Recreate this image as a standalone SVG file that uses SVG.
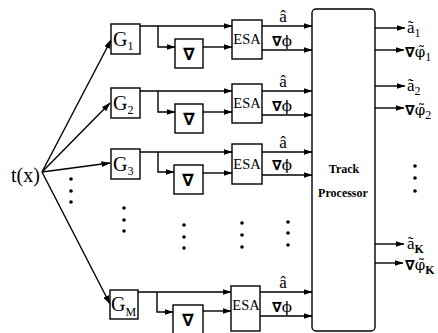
<svg xmlns="http://www.w3.org/2000/svg" width="438" height="333" viewBox="0 0 438 333">
<style>
.b{fill:#fff;stroke:#000;stroke-width:1.4}
.l{fill:none;stroke:#000;stroke-width:1.4}
.t{font-family:"Liberation Serif","DejaVu Serif",serif;fill:#000}
.g{font-size:20px}
.s{font-size:12px}
.e{font-size:14.5px}
.n{font-family:"DejaVu Sans",sans-serif;font-weight:bold;font-size:17px}
.m{font-family:"DejaVu Sans",sans-serif;font-weight:bold;font-size:14px}
.p{font-family:"DejaVu Serif",serif;font-size:15px}
.o{font-size:17px}
.d{fill:#000}
</style>
<defs>
<marker id="a" markerWidth="9" markerHeight="6" refX="8.5" refY="3" orient="auto" markerUnits="userSpaceOnUse">
<path d="M0,0 L9,3 L0,6 z" fill="#000"/>
</marker>
</defs>
<rect width="438" height="333" fill="#fff"/>

<g id="connectors">
<path class="l" marker-end="url(#a)" d="M42,172 L111,40"/>
<path class="l" marker-end="url(#a)" d="M42,172 L110,103"/>
<path class="l" marker-end="url(#a)" d="M42,172 L110,163"/>
<path class="l" marker-end="url(#a)" d="M42,172 L110,304"/>
<path class="l" marker-end="url(#a)" d="M140,26 H232"/>
<path class="l" marker-end="url(#a)" d="M158,26 V47 H175"/>
<path class="l" marker-end="url(#a)" d="M203,47 H232"/>
<path class="l" marker-end="url(#a)" d="M262,26 H312"/>
<path class="l" marker-end="url(#a)" d="M262,50 H312"/>
<path class="l" marker-end="url(#a)" d="M140,91 H232"/>
<path class="l" marker-end="url(#a)" d="M158,91 V112 H175"/>
<path class="l" marker-end="url(#a)" d="M203,112 H232"/>
<path class="l" marker-end="url(#a)" d="M262,91 H312"/>
<path class="l" marker-end="url(#a)" d="M262,115 H312"/>
<path class="l" marker-end="url(#a)" d="M140,152 H232"/>
<path class="l" marker-end="url(#a)" d="M158,152 V172 H174"/>
<path class="l" marker-end="url(#a)" d="M203,173 H232"/>
<path class="l" marker-end="url(#a)" d="M262,152 H312"/>
<path class="l" marker-end="url(#a)" d="M262,175 H312"/>
<path class="l" marker-end="url(#a)" d="M138,292 H231"/>
<path class="l" marker-end="url(#a)" d="M157,292 V312 H173"/>
<path class="l" marker-end="url(#a)" d="M203,311 H231"/>
<path class="l" marker-end="url(#a)" d="M260,292 H312"/>
<path class="l" marker-end="url(#a)" d="M260,316 H312"/>
<path class="l" marker-end="url(#a)" d="M375,28 H405"/>
<path class="l" marker-end="url(#a)" d="M375,50 H404"/>
<path class="l" marker-end="url(#a)" d="M375,86 H405"/>
<path class="l" marker-end="url(#a)" d="M375,108 H404"/>
<path class="l" marker-end="url(#a)" d="M375,244 H404"/>
<path class="l" marker-end="url(#a)" d="M375,263 H403"/>
</g>

<g id="tx"><text class="t g" x="11" y="182">t(x)</text></g>

<g id="G1"><rect class="b" x="111" y="24" width="29" height="30"/><text class="t g" x="113" y="46">G<tspan class="s" dy="4">1</tspan></text></g>
<g id="G2"><rect class="b" x="111" y="88" width="29" height="30"/><text class="t g" x="113" y="110">G<tspan class="s" dy="4">2</tspan></text></g>
<g id="G3"><rect class="b" x="111" y="149" width="29" height="30"/><text class="t g" x="113" y="171">G<tspan class="s" dy="4">3</tspan></text></g>
<g id="GM"><rect class="b" x="110" y="290" width="28" height="29"/><text class="t g" x="111" y="311">G<tspan class="s" dy="5">M</tspan></text></g>

<g id="D1"><rect class="b" x="175" y="39" width="28" height="29"/><text class="n" x="189" y="60" text-anchor="middle">∇</text></g>
<g id="D2"><rect class="b" x="175" y="104" width="28" height="29"/><text class="n" x="189" y="125" text-anchor="middle">∇</text></g>
<g id="D3"><rect class="b" x="174" y="165" width="29" height="29"/><text class="n" x="188" y="186" text-anchor="middle">∇</text></g>
<g id="DM"><rect class="b" x="173" y="305" width="30" height="30"/><text class="n" x="188" y="326" text-anchor="middle">∇</text></g>

<g id="ESA1"><rect class="b" x="232" y="20" width="30" height="39"/><text class="t e" x="247" y="44" text-anchor="middle">ESA</text></g>
<g id="ESA2"><rect class="b" x="232" y="84" width="30" height="39"/><text class="t e" x="247" y="108" text-anchor="middle">ESA</text></g>
<g id="ESA3"><rect class="b" x="232" y="144" width="30" height="40"/><text class="t e" x="247" y="169" text-anchor="middle">ESA</text></g>
<g id="ESAM"><rect class="b" x="231" y="286" width="29" height="45"/><text class="t e" x="246" y="310" text-anchor="middle">ESA</text></g>

<g id="labels">
<text class="t o" x="283" y="22" text-anchor="middle">â</text>
<text class="t o" x="282" y="46" text-anchor="middle"><tspan class="m">∇</tspan><tspan class="p">ϕ</tspan></text>
<text class="t o" x="283" y="87" text-anchor="middle">â</text>
<text class="t o" x="282" y="111" text-anchor="middle"><tspan class="m">∇</tspan><tspan class="p">ϕ</tspan></text>
<text class="t o" x="283" y="148" text-anchor="middle">â</text>
<text class="t o" x="282" y="170" text-anchor="middle"><tspan class="m">∇</tspan><tspan class="p">ϕ</tspan></text>
<text class="t o" x="283" y="288" text-anchor="middle">â</text>
<text class="t o" x="282" y="312" text-anchor="middle"><tspan class="m">∇</tspan><tspan class="p">ϕ</tspan></text>
</g>

<g id="TP"><rect class="b" x="312" y="9" width="63" height="322" rx="4"/>
<text class="t" x="344" y="173" text-anchor="middle" font-size="12" font-weight="bold">Track</text>
<text class="t" x="343" y="197" text-anchor="middle" font-size="12" font-weight="bold">Processor</text></g>

<g id="outputs">
<text class="t o" x="407" y="33">ã<tspan class="s" dy="4">1</tspan></text>
<text class="t o" x="405" y="57"><tspan class="m">∇</tspan><tspan class="p">φ̃</tspan><tspan class="s" dy="4">1</tspan></text>
<text class="t o" x="407" y="91">ã<tspan class="s" dy="4">2</tspan></text>
<text class="t o" x="405" y="115"><tspan class="m">∇</tspan><tspan class="p">φ̃</tspan><tspan class="s" dy="4">2</tspan></text>
<text class="t o" x="407" y="249">ã<tspan class="s" dy="4" font-weight="bold">K</tspan></text>
<text class="t o" x="405" y="270"><tspan class="m">∇</tspan><tspan class="p">φ̃</tspan><tspan class="s" dy="4" font-weight="bold">K</tspan></text>
</g>

<g id="dots">
<circle class="d" cx="71" cy="179" r="1.8"/><circle class="d" cx="71" cy="191" r="1.8"/><circle class="d" cx="71" cy="202" r="1.8"/>
<circle class="d" cx="124" cy="208" r="1.8"/><circle class="d" cx="124" cy="220" r="1.8"/><circle class="d" cx="124" cy="231" r="1.8"/>
<circle class="d" cx="184" cy="225" r="1.8"/><circle class="d" cx="184" cy="237" r="1.8"/><circle class="d" cx="184" cy="248" r="1.8"/>
<circle class="d" cx="242" cy="223" r="1.8"/><circle class="d" cx="242" cy="235" r="1.8"/><circle class="d" cx="242" cy="247" r="1.8"/>
<circle class="d" cx="288" cy="222" r="1.8"/><circle class="d" cx="288" cy="233" r="1.8"/><circle class="d" cx="288" cy="245" r="1.8"/>
<circle class="d" cx="415" cy="166" r="1.8"/><circle class="d" cx="415" cy="178" r="1.8"/><circle class="d" cx="415" cy="191" r="1.8"/>
</g>
</svg>
